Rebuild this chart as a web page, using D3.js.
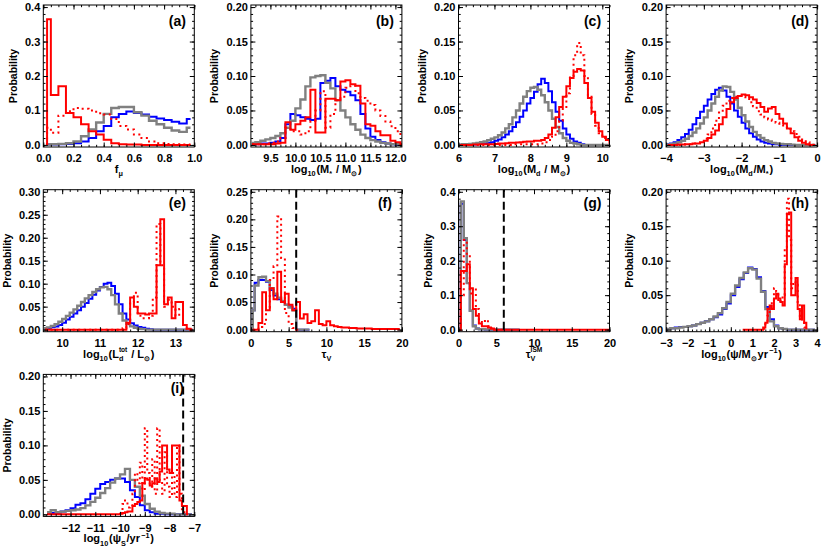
<!DOCTYPE html>
<html>
<head>
<meta charset="utf-8">
<script src="https://cdn.jsdelivr.net/npm/d3@7/dist/d3.min.js"></script>
<style>
html,body{margin:0;padding:0;background:#fff;}
svg{display:block;}
</style>
</head>
<body>
<svg id="chart" width="830" height="554"></svg>
<script>
// ================= DATA =================
// Each histogram: values at bin centres; bins = [first bin centre, bin width]

// ---- (a) f_mu ----
const aXDomain = [0, 1];
const aYTop = 0.4;
const aXTicks = [0, 0.2, 0.4, 0.6, 0.8, 1.0];
const aYTicks = [0, 0.1, 0.2, 0.3, 0.4];
const aBins = [0.025, 0.05];
const aGray = [0.001,0.002,0.003,0.005,0.01,0.025,0.045,0.065,0.09,0.107,0.11,0.11,0.095,0.085,0.07,0.06,0.05,0.042,0.038,0.05];
const aBlue = [0.001,0.001,0.002,0.003,0.005,0.01,0.02,0.04,0.055,0.08,0.09,0.097,0.093,0.088,0.082,0.077,0.072,0.067,0.062,0.075];
const aRed = [0.365,0.145,0.17,0.093,0.08,0.06,0.04,0.03,0.015,0.005,0.002,0.001,0.001,0,0,0,0,0,0,0];
const aRedDot = [0.05,0.035,0.085,0.098,0.107,0.105,0.1,0.092,0.088,0.075,0.055,0.045,0.03,0.02,0.01,0.005,0.003,0.002,0.001,0.001];

// ---- (b) log10(M*/Msun) ----
const bXDomain = [9.11, 12.13];
const bYTop = 0.2;
const bXTicks = [9.5, 10.0, 10.5, 11.0, 11.5, 12.0];
const bYTicks = [0, 0.05, 0.10, 0.15, 0.20];
const bBins = [9.15, 0.1];
const bGray = [0.003,0.004,0.006,0.008,0.01,0.013,0.017,0.025,0.035,0.053,0.066,0.085,0.098,0.1,0.101,0.09,0.082,0.065,0.05,0.04,0.03,0.022,0.015,0.01,0.007,0.005,0.003,0.002,0.001,0.001,0];
const bBlue = [0.001,0.001,0.002,0.002,0.003,0.005,0.01,0.03,0.045,0.043,0.04,0.038,0.036,0.038,0.09,0.093,0.097,0.085,0.08,0.077,0.072,0.065,0.045,0.024,0.012,0.007,0.004,0.002,0.001,0,0];
const bRed = [0.001,0.001,0.001,0.001,0.001,0.002,0.003,0.033,0.022,0.03,0.035,0.04,0.08,0.018,0.018,0.067,0.067,0.065,0.092,0.094,0.088,0.086,0.06,0.03,0.028,0.02,0.014,0.014,0.006,0.004,0.001];
const bRedDot = [0.001,0.001,0.001,0.002,0.003,0.005,0.01,0.025,0.02,0.02,0.015,0.02,0.035,0.05,0.078,0.025,0.045,0.065,0.07,0.083,0.086,0.075,0.068,0.064,0.058,0.05,0.042,0.034,0.027,0.02,0.012];

// ---- (c) log10(Md/Msun) ----
const cXDomain = [6, 10.2];
const cYTop = 0.2;
const cXTicks = [6, 7, 8, 9, 10];
const cYTicks = [0, 0.05, 0.10, 0.15, 0.20];
const cBins = [6.05, 0.1];
const cGray = [0.0005,0.001,0.001,0.0015,0.002,0.003,0.004,0.005,0.007,0.009,0.011,0.014,0.018,0.024,0.03,0.04,0.05,0.06,0.07,0.078,0.083,0.084,0.08,0.072,0.062,0.05,0.038,0.026,0.017,0.01,0.006,0.003,0.002,0.001,0,0,0,0,0,0,0,0,0];
const cBlue = [0.0002,0.0003,0.0004,0.0006,0.0008,0.001,0.0015,0.002,0.003,0.004,0.006,0.008,0.011,0.015,0.02,0.026,0.033,0.041,0.05,0.06,0.068,0.077,0.088,0.096,0.09,0.078,0.062,0.048,0.035,0.024,0.015,0.009,0.005,0.003,0.001,0,0,0,0,0,0,0,0];
const cRed = [0,0,0,0,0.0005,0.0005,0.001,0.001,0.001,0.001,0.0015,0.002,0.002,0.0025,0.003,0.003,0.0035,0.004,0.0045,0.005,0.005,0.006,0.006,0.007,0.01,0.015,0.025,0.04,0.055,0.07,0.085,0.097,0.106,0.11,0.108,0.09,0.068,0.048,0.032,0.02,0.012,0.007,0.003];
const cRedDot = [0,0,0,0,0,0,0,0,0,0,0,0,0,0,0,0.001,0.001,0.001,0.001,0.001,0.001,0.001,0.001,0.002,0.004,0.007,0.012,0.02,0.035,0.055,0.075,0.1,0.13,0.148,0.13,0.1,0.072,0.045,0.028,0.017,0.01,0.008,0.005];

// ---- (d) log10(Md/M*) ----
const dXDomain = [-4, 0];
const dYTop = 0.2;
const dXTicks = [-4, -3, -2, -1, 0];
const dYTicks = [0, 0.05, 0.10, 0.15, 0.20];
const dBins = [-3.95, 0.1];
const dGray = [0.0005,0.001,0.002,0.004,0.006,0.009,0.013,0.018,0.024,0.031,0.04,0.05,0.06,0.07,0.079,0.085,0.084,0.077,0.066,0.054,0.043,0.034,0.026,0.019,0.014,0.01,0.007,0.005,0.003,0.002,0.0015,0.001,0.001,0.0005,0,0,0,0,0,0];
const dBlue = [0.001,0.002,0.004,0.007,0.011,0.016,0.022,0.03,0.039,0.048,0.057,0.066,0.074,0.08,0.083,0.079,0.07,0.06,0.05,0.041,0.032,0.024,0.017,0.012,0.008,0.005,0.003,0.002,0.001,0.001,0,0,0,0,0,0,0,0,0,0];
const dRed = [0,0,0,0.0005,0.0005,0.001,0.001,0.002,0.002,0.004,0.006,0.01,0.015,0.021,0.03,0.04,0.052,0.062,0.068,0.071,0.073,0.072,0.069,0.066,0.061,0.055,0.048,0.053,0.055,0.045,0.038,0.031,0.024,0.017,0.011,0.006,0.003,0.001,0,0];
const dRedDot = [0,0,0,0,0.0005,0.001,0.001,0.002,0.003,0.005,0.009,0.015,0.024,0.035,0.047,0.057,0.064,0.068,0.07,0.071,0.07,0.067,0.062,0.056,0.049,0.044,0.04,0.037,0.035,0.032,0.029,0.026,0.023,0.02,0.016,0.012,0.008,0.004,0.002,0];

// ---- (e) log10(Ld_tot/Lsun) ----
const eXDomain = [9.5, 13.5];
const eYTop = 0.3;
const eXTicks = [10, 11, 12, 13];
const eYTicks = [0, 0.05, 0.10, 0.15, 0.20, 0.25, 0.30];
const eBins = [9.55, 0.1];
const eGray = [0.003,0.005,0.008,0.012,0.017,0.023,0.03,0.037,0.044,0.052,0.06,0.068,0.075,0.082,0.088,0.092,0.093,0.088,0.075,0.055,0.035,0.02,0.012,0.007,0.004,0.002,0.001,0,0,0,0,0,0,0,0,0,0,0,0,0];
const eBlue = [0.002,0.003,0.005,0.007,0.01,0.015,0.022,0.028,0.035,0.042,0.05,0.058,0.067,0.076,0.085,0.093,0.1,0.102,0.095,0.078,0.055,0.035,0.022,0.014,0.009,0.006,0.004,0.002,0.001,0,0,0,0,0,0,0,0,0,0,0];
const eRed = [0,0,0,0,0,0,0,0,0,0,0,0,0,0,0,0,0,0,0,0,0,0,0.015,0.07,0.05,0.035,0.035,0.033,0.035,0.035,0.14,0.24,0.055,0.07,0.025,0.06,0.06,0.01,0.002,0];
const eRedDot = [0,0,0,0,0,0,0,0,0,0,0,0,0,0,0,0,0,0,0,0,0,0.003,0.012,0.06,0.08,0.03,0.025,0.025,0.03,0.07,0.23,0.14,0.05,0.065,0.05,0.03,0.045,0.01,0.002,0];

// ---- (f) tau_V ----
const fXDomain = [0, 20];
const fYTop = 0.25;
const fXTicks = [0, 5, 10, 15, 20];
const fYTicks = [0, 0.05, 0.10, 0.15, 0.20, 0.25];
const fBins = [0.25, 0.5];
const fGray = [0.035,0.08,0.095,0.096,0.088,0.075,0.065,0.058,0.052,0.045,0.04,0.035,0,0,0,0];
const fBlue = [0.035,0.085,0.09,0.09,0.087,0.072,0.062,0.055,0.05,0.045,0.042,0.038,0,0,0,0];
const fRed = [0,0,0.012,0.068,0.035,0.075,0.055,0.105,0.05,0.065,0.045,0.035,0.05,0.02,0.028,0.012,0.015,0.035,0.01,0.008,0.015,0.008,0.006,0.005,0.004,0.004,0.003,0.003,0.002,0.002,0.002,0.002,0.001,0.001,0.001,0.001,0.001,0.001,0.001,0.0005];
const fRedDot = [0,0,0.005,0.01,0.04,0.09,0.115,0.205,0.13,0.03,0.01,0.003,0];
const fDashX = 6;

// ---- (g) tau_V^ISM ----
const gXDomain = [0, 20];
const gYTop = 0.4;
const gXTicks = [0, 5, 10, 15, 20];
const gYTicks = [0, 0.1, 0.2, 0.3, 0.4];
const gBins = [0.1, 0.4];
const gGray = [0,0.372,0.265,0.135,0.055,0.01,0.003,0.001,0.001,0.0005,0.0005,0,0,0,0,0,0,0,0,0,0];
const gBlue = [0,0.365,0.26,0.135,0.055,0.012,0.003,0.001,0.001,0,0,0,0,0,0,0,0,0,0,0,0];
const gRed = [0,0.17,0.17,0.19,0.12,0.06,0.04,0.018,0.01,0.01,0.006,0.003,0,0,0,0,0,0,0,0,0,0,0,0,0,0,0,0,0,0,0,0,0,0,0,0,0,0,0,0,0,0,0,0,0,0,0,0,0,0,0];
const gRedDot = [0,0.1,0.26,0.22,0.105,0.12,0.06,0.03,0.02,0.028,0.01,0.003,0,0,0];
const gDashX = 6;

// ---- (h) log10(psi / Msun yr^-1) ----
const hXDomain = [-3, 4];
const hYTop = 0.2;
const hXTicks = [-3, -2, -1, 0, 1, 2, 3, 4];
const hYTicks = [0, 0.05, 0.10, 0.15, 0.20];
const hBins = [-2.9, 0.2];
const hRedBins = [0.55, 0.1];
const hRedDotBins = [1.55, 0.1];
const hGray = [0.001,0.002,0.002,0.003,0.004,0.005,0.006,0.008,0.01,0.012,0.015,0.019,0.024,0.031,0.04,0.052,0.064,0.075,0.083,0.089,0.087,0.074,0.055,0.03,0.012,0.005,0.002,0.001,0,0,0,0,0,0,0];
const hBlue = [0.001,0.002,0.003,0.004,0.004,0.005,0.006,0.008,0.01,0.012,0.015,0.018,0.022,0.03,0.038,0.05,0.062,0.073,0.082,0.09,0.088,0.076,0.056,0.033,0.015,0.006,0.002,0.001,0,0,0,0,0,0,0];
const hRed = [0,0,0,0,0,0,0,0,0,0,0.003,0.01,0.03,0.035,0.03,0.045,0.052,0.045,0.04,0.035,0.095,0.168,0.17,0.05,0.05,0.075,0.03,0.015,0.035,0.01,0.002];
const hRedDot = [0.002,0.008,0.02,0.03,0.04,0.06,0.055,0.04,0.045,0.05,0.12,0.19,0.13,0.06,0.07,0.065,0.04,0.02,0.01,0.003,0];

// ---- (i) log10(psi_S / yr^-1) ----
const iXDomain = [-13.1, -7];
const iYTop = 0.2;
const iXTicks = [-12, -11, -10, -9, -8, -7];
const iYTicks = [0, 0.05, 0.10, 0.15, 0.20];
const iBins = [-12.9, 0.2];
const iRedBins = [-12.95, 0.1];
const iRedDotBins = [-9.95, 0.1];
const iGray = [0.003,0.006,0.003,0.004,0.005,0.006,0.007,0.009,0.013,0.018,0.024,0.031,0.038,0.046,0.052,0.058,0.066,0.05,0.04,0.027,0.015,0.008,0.004,0.002,0.001,0.001,0,0,0,0];
const iBlue = [0.001,0.002,0.002,0.004,0.006,0.009,0.014,0.016,0.022,0.03,0.037,0.044,0.047,0.05,0.052,0.052,0.047,0.035,0.025,0.013,0.006,0.003,0.001,0.001,0,0,0,0,0,0];
const iRed = [0,0,0,0,0,0,0,0,0,0,0,0,0,0,0,0,0,0,0,0,0,0,0,0,0,0,0,0,0,0,
  0.001,0.002,0.003,0.004,0.004,0.012,0.015,0.018,0.02,0.045,0.052,0.05,0.042,0.045,0.052,0.047,0.062,0.1,0.1,0.065,0.06,0.1,0.1,0.1,0.02,0.012,0.012,0];
const iRedDot = [0.002,0.015,0.02,0.01,0.012,0.03,0.06,0.045,0.075,0.035,0.125,0.06,0.04,0.08,0.03,0.125,0.05,0.03,0.09,0.04,0.025,0.06,0.025,0.1,0.03,0.005,0];
const iDashX = -7.45;

// ================= LAYOUT / STYLE =================
const frameW = 151, frameH = 142;
const colX = [43.3, 250.9, 458.5, 666.1];
const rowY = [5, 189.7, 374.4];
const FONT = "'Liberation Sans', Arial, Helvetica, sans-serif";
const styles = {
  blue:   {stroke: "#0000ff", width: 2},
  gray:   {stroke: "#808080", width: 2.4},
  red:    {stroke: "#ff0000", width: 2},
  redDot: {stroke: "#ff0000", width: 2, dash: "2,3.5"}
};

const panels = [
  {id:"a", col:0, row:0, xDom:aXDomain, yTop:aYTop, xTicks:aXTicks, yTicks:aYTicks, xFmt:".1f", yFmt:".1f", xMinor:0.05, yMinor:0.02,
   series:[["blue",aBlue,aBins],["gray",aGray,aBins],["red",aRed,aBins],["redDot",aRedDot,aBins]],
   title:[["f"],["\u03bc","sub"]]},
  {id:"b", col:1, row:0, xDom:bXDomain, yTop:bYTop, xTicks:bXTicks, yTicks:bYTicks, xFmt:".1f", yFmt:".2f", xMinor:0.1, yMinor:0.01,
   series:[["blue",bBlue,bBins],["gray",bGray,bBins],["red",bRed,bBins],["redDot",bRedDot,bBins]],
   title:[["log"],["10","sub"],["(M"],["*","sub"],[" / M"],["\u2299","sub"],[")"]]},
  {id:"c", col:2, row:0, xDom:cXDomain, yTop:cYTop, xTicks:cXTicks, yTicks:cYTicks, xFmt:"d", yFmt:".2f", xMinor:0.2, yMinor:0.01,
   series:[["blue",cBlue,cBins],["gray",cGray,cBins],["red",cRed,cBins],["redDot",cRedDot,cBins]],
   title:[["log"],["10","sub"],["(M"],["d","sub"],[" / M"],["\u2299","sub"],[")"]]},
  {id:"d", col:3, row:0, xDom:dXDomain, yTop:dYTop, xTicks:dXTicks, yTicks:dYTicks, xFmt:"d", yFmt:".2f", xMinor:0.2, yMinor:0.01,
   series:[["blue",dBlue,dBins],["gray",dGray,dBins],["red",dRed,dBins],["redDot",dRedDot,dBins]],
   title:[["log"],["10","sub"],["(M"],["d","sub"],["/M"],["*","sub"],[")"]]},
  {id:"e", col:0, row:1, xDom:eXDomain, yTop:eYTop, xTicks:eXTicks, yTicks:eYTicks, xFmt:"d", yFmt:".2f", xMinor:0.2, yMinor:0.01,
   series:[["blue",eBlue,eBins],["gray",eGray,eBins],["red",eRed,eBins],["redDot",eRedDot,eBins]],
   title:[["log"],["10","sub"],["(L"],["d","sub"],["tot","supStack"],[" / L"],["\u2299","sub"],[")"]]},
  {id:"f", col:1, row:1, xDom:fXDomain, yTop:fYTop, xTicks:fXTicks, yTicks:fYTicks, xFmt:"d", yFmt:".2f", xMinor:1, yMinor:0.01, dashX:fDashX,
   series:[["blue",fBlue,fBins],["gray",fGray,fBins],["red",fRed,fBins],["redDot",fRedDot,fBins]],
   title:[["\u03c4"],["V","sub"]]},
  {id:"g", col:2, row:1, xDom:gXDomain, yTop:gYTop, xTicks:gXTicks, yTicks:gYTicks, xFmt:"d", yFmt:".1f", xMinor:1, yMinor:0.02, dashX:gDashX,
   series:[["blue",gBlue,gBins],["gray",gGray,gBins],["red",gRed,gBins],["redDot",gRedDot,gBins]],
   title:[["\u03c4"],["V","sub"],["ISM","supStack"]]},
  {id:"h", col:3, row:1, xDom:hXDomain, yTop:hYTop, xTicks:hXTicks, yTicks:hYTicks, xFmt:"d", yFmt:".2f", xMinor:0.2, yMinor:0.01,
   series:[["blue",hBlue,hBins],["gray",hGray,hBins],["red",hRed,hRedBins],["redDot",hRedDot,hRedDotBins]],
   title:[["log"],["10","sub"],["(\u03c8/M"],["\u2299","sub"],["yr"],["\u22121","sup"],[")"]]},
  {id:"i", col:0, row:2, xDom:iXDomain, yTop:iYTop, xTicks:iXTicks, yTicks:iYTicks, xFmt:"d", yFmt:".2f", xMinor:0.2, yMinor:0.01, dashX:iDashX,
   series:[["blue",iBlue,iBins],["gray",iGray,iBins],["red",iRed,iRedBins],["redDot",iRedDot,iRedDotBins]],
   title:[["log"],["10","sub"],["(\u03c8"],["S","sub"],["/yr"],["\u22121","sup"],[")"]]}
];

// ================= DRAW =================
const svg = d3.select("#chart");
const defs = svg.append("defs");

function styleAxis(sel) {
  sel.select(".domain").remove();
  sel.attr("font-family", FONT).attr("font-size", 11).attr("font-weight", "bold");
  sel.selectAll(".tick line").attr("stroke", "#000").attr("stroke-width", 1);
}

function minorTicks(dom, step) {
  const lo = Math.min(dom[0], dom[1]), hi = Math.max(dom[0], dom[1]);
  const start = Math.ceil(lo / step - 1e-9) * step;
  return d3.range(start, hi + step * 1e-6, step).filter(v => v >= lo - 1e-9 && v <= hi + 1e-9);
}

function richText(textSel, parts, size) {
  let shift = 0;
  let prevNode = null, prevMode = null;
  parts.forEach(([t, mode]) => {
    let target = 0, fs = size, dx = 0;
    if (mode === "sub") { target = 3.4; fs = size * 0.66; }
    if (mode === "sup") { target = -4.8; fs = size * 0.66; dx = 1.2; }
    if (mode === "supStack") {
      target = -5.8; fs = size * 0.6;
      if (prevNode) dx = -prevNode.getComputedTextLength();
    }
    if (!mode && (prevMode === "sub" || prevMode === "supStack" || prevMode === "sup")) dx = 0.8;
    const ts = textSel.append("tspan").text(t).attr("font-size", fs).attr("dy", target - shift);
    if (dx) ts.attr("dx", dx);
    shift = target;
    prevNode = ts.node();
    prevMode = mode;
  });
}

panels.forEach(p => {
  const L = colX[p.col], T = rowY[p.row];
  const x = d3.scaleLinear().domain(p.xDom).range([L, L + frameW]);
  const y = d3.scaleLinear().domain([-0.015 * p.yTop, 1.015 * p.yTop]).range([T + frameH, T]);
  const g = svg.append("g").attr("class", "panel-" + p.id);

  defs.append("clipPath").attr("id", "clip-" + p.id)
    .append("rect").attr("x", L).attr("y", T).attr("width", frameW).attr("height", frameH);
  const plot = g.append("g").attr("clip-path", `url(#clip-${p.id})`);

  const line = d3.line().x(d => x(d[0])).y(d => y(d[1])).curve(d3.curveStep);
  p.series.forEach(([key, vals, bins]) => {
    const st = styles[key];
    const pts = [[bins[0], 0]].concat(vals.map((v, i) => [bins[0] + i * bins[1], v]));
    const path = plot.append("path").attr("d", line(pts))
      .attr("fill", "none").attr("stroke", st.stroke).attr("stroke-width", st.width)
      .attr("stroke-linejoin", "miter");
    if (st.dash) path.attr("stroke-dasharray", st.dash);
  });

  if (p.dashX !== undefined) {
    plot.append("line")
      .attr("x1", x(p.dashX)).attr("x2", x(p.dashX))
      .attr("y1", T).attr("y2", T + frameH)
      .attr("stroke", "#000").attr("stroke-width", 2).attr("stroke-dasharray", "8,4");
  }

  // frame
  g.append("rect").attr("x", L).attr("y", T).attr("width", frameW).attr("height", frameH)
    .attr("fill", "none").attr("stroke", "#000").attr("stroke-width", 1);

  // major axes
  g.append("g").attr("transform", `translate(0,${T + frameH})`)
    .call(d3.axisBottom(x).tickValues(p.xTicks).tickFormat(d3.format(p.xFmt)).tickSizeInner(-4.5).tickSizeOuter(0).tickPadding(7.5))
    .call(styleAxis);
  const yAx = g.append("g").attr("transform", `translate(${L},0)`)
    .call(d3.axisLeft(y).tickValues(p.yTicks).tickFormat(d3.format(p.yFmt)).tickSizeInner(-4.5).tickSizeOuter(0).tickPadding(3))
    .call(styleAxis);
  g.append("g").attr("transform", `translate(0,${T})`)
    .call(d3.axisTop(x).tickValues(p.xTicks).tickFormat("").tickSizeInner(-4.5).tickSizeOuter(0))
    .call(styleAxis);
  g.append("g").attr("transform", `translate(${L + frameW},0)`)
    .call(d3.axisRight(y).tickValues(p.yTicks).tickFormat("").tickSizeInner(-4.5).tickSizeOuter(0))
    .call(styleAxis);

  // minor ticks
  const xm = minorTicks(p.xDom, p.xMinor);
  const ym = minorTicks([0, p.yTop], p.yMinor);
  g.append("g").attr("transform", `translate(0,${T + frameH})`)
    .call(d3.axisBottom(x).tickValues(xm).tickFormat("").tickSizeInner(-2.2).tickSizeOuter(0)).call(styleAxis);
  g.append("g").attr("transform", `translate(0,${T})`)
    .call(d3.axisTop(x).tickValues(xm).tickFormat("").tickSizeInner(-2.2).tickSizeOuter(0)).call(styleAxis);
  g.append("g").attr("transform", `translate(${L},0)`)
    .call(d3.axisLeft(y).tickValues(ym).tickFormat("").tickSizeInner(-2.2).tickSizeOuter(0)).call(styleAxis);
  g.append("g").attr("transform", `translate(${L + frameW},0)`)
    .call(d3.axisRight(y).tickValues(ym).tickFormat("").tickSizeInner(-2.2).tickSizeOuter(0)).call(styleAxis);

  // y title
  let minX = 0;
  yAx.selectAll(".tick text").each(function () {
    const b = this.getBBox();
    minX = Math.min(minX, b.x);
  });
  const yc = T + frameH / 2;
  const ylx = Math.max(L + minX - 8.5, 10.5);
  g.append("text").attr("transform", `translate(${ylx},${yc}) rotate(-90)`)
    .attr("text-anchor", "middle").attr("font-family", FONT).attr("font-size", 10.5).attr("font-weight", "bold")
    .text("Probability");

  // x title
  const xt = g.append("text").attr("x", L + frameW / 2).attr("y", T + frameH + 26)
    .attr("text-anchor", "middle").attr("font-family", FONT).attr("font-size", 11).attr("font-weight", "bold");
  richText(xt, p.title, 11);

  // panel label
  g.append("text").attr("x", L + frameW - 17).attr("y", T + (p.row === 0 ? 21 : 18.5))
    .attr("text-anchor", "middle").attr("font-family", FONT).attr("font-size", 14).attr("font-weight", "bold")
    .text("(" + p.id + ")");
});
</script>
</body>
</html>
